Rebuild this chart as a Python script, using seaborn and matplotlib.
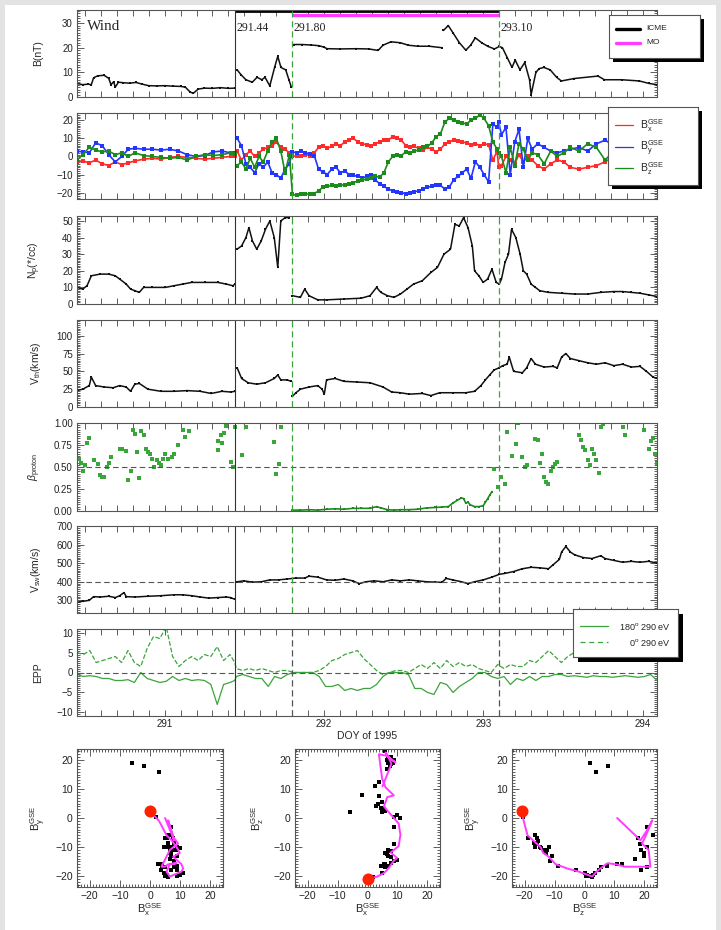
import numpy as np
import pandas as pd
import matplotlib
matplotlib.use('Agg')
import matplotlib.pyplot as plt
from matplotlib.patches import Rectangle
from matplotlib.ticker import MultipleLocator, FormatStrFormatter
import seaborn as sns

sns.set_style('ticks')
plt.rcParams['font.family'] = ['Liberation Sans', 'DejaVu Sans']
plt.rcParams['mathtext.fontset'] = 'custom'
plt.rcParams['mathtext.rm'] = 'Liberation Sans'
plt.rcParams['mathtext.it'] = 'Liberation Sans:italic'
plt.rcParams['mathtext.bf'] = 'Liberation Sans:bold'

# ---------------- data ----------------
ICME_START, MO_START, MO_END = 291.44, 291.80, 293.10
DOY_RANGE = (290.45, 294.09)

# |B|
b_doy = [290.450, 290.486, 290.520, 290.540, 290.554, 290.580, 290.620, 290.649, 290.663, 290.680,
         290.690, 290.710, 290.740, 290.780, 290.820, 290.860, 290.900, 290.950, 291.000, 291.050,
         291.100, 291.130, 291.160, 291.180, 291.210, 291.250, 291.300, 291.350, 291.400, 291.440,
         291.455, 291.480, 291.510, 291.550, 291.580, 291.610, 291.630, 291.660, 291.690, 291.710,
         291.730, 291.760, 291.780, 291.795,
         291.810, 291.860, 291.920, 291.970, 292.000, 292.020, 292.100, 292.200, 292.280, 292.340,
         292.370, 292.420, 292.480, 292.530, 292.590, 292.660, 292.740,
         292.750, 292.780, 292.810, 292.850, 292.890, 292.920, 292.950, 292.990, 293.030, 293.070, 293.100,
         293.120, 293.150, 293.180, 293.200, 293.230, 293.260, 293.290, 293.300, 293.330, 293.350,
         293.380, 293.420, 293.460, 293.490, 293.570, 293.720, 293.760, 293.870, 293.980, 294.040, 294.090]
b_mag = [5.5, 5.0, 5.2, 5.0, 7.8, 8.6, 8.8, 7.6, 5.0, 6.2,
         4.0, 6.0, 5.8, 5.6, 5.9, 5.2, 4.6, 4.5, 4.6, 4.4,
         4.3, 4.0, 2.0, 1.5, 3.2, 3.6, 3.5, 3.8, 3.5, 3.6,
         11, 9, 7, 6, 8, 7, 8, 4.5, 12, 16.5,
         12, 11, 7, 4,
         21.3, 21.3, 21.1, 20.8, 20.2, 19.6, 19.5, 19.6, 19.5, 18.9,
         21.0, 22.4, 22.0, 21.0, 20.6, 20.6, 20.0,
         27.0, 29.0, 26.0, 22.0, 19.0, 21.0, 24.0, 22.0, 20.5, 19.5, 20.5,
         20, 16, 12, 15, 11, 14, 7, 1, 10, 11.5,
         12, 11, 8, 6.5, 7.5, 8.5, 7, 7, 6.5, 5.5, 5]

# B components (GSE)
bgse_doy = [290.450, 290.486, 290.527, 290.567, 290.608, 290.649, 290.690, 290.731, 290.772, 290.813,
            290.868, 290.923, 290.977, 291.032, 291.087, 291.141, 291.196, 291.251, 291.305, 291.360,
            291.414, 291.442,
            291.455, 291.482, 291.510, 291.537, 291.565, 291.592, 291.619, 291.647, 291.674, 291.701,
            291.729, 291.756, 291.783,
            291.802, 291.830, 291.857, 291.884, 291.912, 291.939, 291.966, 291.993, 292.021, 292.048,
            292.076, 292.103, 292.130, 292.158, 292.185, 292.212, 292.240, 292.267, 292.294, 292.321,
            292.349, 292.376, 292.404, 292.431, 292.458, 292.485, 292.513, 292.540, 292.567, 292.594,
            292.622, 292.649, 292.677, 292.704, 292.731, 292.759, 292.786, 292.813, 292.841, 292.868,
            292.895, 292.923, 292.950, 292.978, 293.005, 293.033, 293.060, 293.087, 293.096,
            293.114, 293.142, 293.169, 293.197, 293.224, 293.251, 293.279, 293.306, 293.341, 293.382,
            293.423, 293.464, 293.505, 293.546, 293.600, 293.655, 293.710, 293.764, 293.819, 293.874,
            293.929, 293.983, 294.038, 294.092]
bx_gse = [-3, -2.5, -3.5, -2, -4, -5, -3, -4.5, -3.5, -2.5, -1.5, -1, -1.5, -0.5, 0, -0.5, -1, -1.5, -1, -0.5, 0, 0.5,
          3, -2, 1, 3, 0, 2, 4, 5, 6, 8, 5, 4, 2,
          0, 0.5, 0, 1, 0.5, 2, 5, 6, 4.5, 5.5, 7, 6, 8, 9, 10, 8, 7, 6.5, 6, 7,
          8, 9, 9, 11, 10, 9, 6, 5, 5.5, 4.5, 3.5, 5, 4, 2.5, 4, 7, 8, 9, 8.5, 8,
          7.5, 6.5, 7, 6, 7, 6.5, -2, 3, -6,
          -5, 0, -2, -4, 1, -3, 0, -2, -5, -7, -4, -2, -3, -6, -7, -6, -5, -3, 0, -2, -1, 0, -3, -4]
by_gse = [3, 2.5, 2, 7.5, 6, 1, -3, 0, 4, 4.5, 4, 4, 3.5, 4, 3, 1, 0, 0.5, 2.5, 3, 2, 2,
          10, 6, -4, -6, -9, -4, -6, -3, -9, -10, -12, -7, -4,
          2.5, 2, 3, 2, 1.5, 0.5, -7, -8.5, -10, -7, -6, -9, -8, -10, -10.5, -11, -12, -11, -10, -13,
          -15, -16.5, -18, -19, -19.5, -20, -20.5, -20, -19.5, -19, -18, -17, -16.5, -16, -16, -18, -17, -13, -11, -9,
          -7, -12, -3, -6, -10, -14, 18, 16, 19,
          12, 16, -10, 8, 15, -6, 10, 4, 7, 5, 3, 2, 3, 4, 5, 3, 7, 9, 6, 3, 4, 6, 5, 4]
bz_gse = [-2, 1, 5, 3.5, 2.5, 3, 1, 2, 0, 2, 0.5, 0, -0.5, -1, -0.5, -2, 0, 1, 0.5, 1, 2, 1.5,
          -5, -3, -7, -1, -6, 0, -3, 3, 8, 10, 3, -9, 1,
          -21, -21.5, -21, -21, -20.5, -20.5, -19, -17, -16.5, -16, -16.5, -16, -15.5, -15, -14.5, -13.5, -13, -12.5, -12, -11,
          -11.5, -9, -3, 0, 1, 0.5, 2.5, 2, 3, 3.5, 5, 5.5, 7.5, 11, 12.5, 19, 21, 20, 19, 18.5,
          18, 20, 21, 23, 21, 17, 8, 4, 2,
          0, -9, 5, -5, 7, 4, -2, 2, 1, -4, 3, 0, 2, 5, 3, 7, 5, -2, 3, 2, 0, 3, 2, 0]

# hourly averages inside the magnetic obstacle (magenta hodogram path)
hour_bx = [0.0, 3.0, 5.5, 7.0, 8.8, 9.9, 7.7, 10.4, 11.0, 10.4, 6.6, 5.5, 6.6, 8.8, 6.0, 4.9, 3.8, 6.6, 9.3, 7.7, 6.0, 7.0, 8.0, 5.0]
hour_by = [2.4, -1.0, -6.0, -7.5, -10.0, -12.0, -13.4, -15.9, -17.4, -18.5, -20.2, -18.5, -15.9, -15.6, -16.0, -16.8, -16.8, -11.0, -8.8, -6.5, -0.8, -4.2, -7.7, 0.0]
hour_bz = [-21.0, -20.3, -19.0, -17.4, -14.7, -13.8, -11.9, -9.7, -5.8, -1.9, 2.6, 4.0, 7.2, 7.8, 10.6, 13.5, 22.0, 21.4, 19.2, 20.3, 22.6, 20.9, 18.7, 10.9]

# proton density
np_doy = [290.450, 290.486, 290.513, 290.540, 290.595, 290.649, 290.690, 290.718, 290.759, 290.786,
          290.813, 290.841, 290.868, 290.923, 291.005, 291.059, 291.114, 291.169, 291.251, 291.333,
          291.387, 291.428, 291.442,
          291.455, 291.483, 291.510, 291.529, 291.551, 291.578, 291.606, 291.633, 291.660, 291.688,
          291.710, 291.729, 291.756, 291.783,
          291.802, 291.852, 291.879, 291.906, 291.961, 292.016, 292.125, 292.234, 292.289, 292.330,
          292.357, 292.398, 292.439, 292.480, 292.521, 292.562, 292.617, 292.671, 292.712, 292.753,
          292.794, 292.822, 292.849, 292.876, 292.904, 292.931, 292.945, 292.972, 292.999, 293.027,
          293.054, 293.081, 293.100,
          293.114, 293.136, 293.158, 293.177, 293.204, 293.231, 293.251, 293.272, 293.300, 293.327,
          293.354, 293.409, 293.491, 293.573, 293.655, 293.737, 293.819, 293.874, 293.928, 293.983,
          294.037, 294.092]
np_vals = [10, 9, 11, 17, 18, 18, 17, 15, 12, 9, 8, 7, 10, 10, 10, 11, 12, 13, 13, 13, 12, 11, 12,
           33, 35, 40, 46, 38, 33, 38, 45, 50, 40, 22, 50, 52, 52,
           5, 4, 9, 5, 2.5, 2.5, 3, 3.5, 5, 10, 7, 5, 4, 6, 9, 12, 14, 19, 22, 30, 33, 48, 47, 52,
           46, 35, 20, 17, 13, 15, 21, 13, 12,
           15, 25, 30, 45, 40, 30, 20, 18, 12, 10, 8, 7, 6.5, 6, 6, 7, 7.5, 7.5, 7, 6.5, 5.5, 4.5]

# proton thermal speed
vth_doy = [290.450, 290.486, 290.527, 290.540, 290.567, 290.622, 290.677, 290.718, 290.759, 290.786,
           290.813, 290.841, 290.895, 290.977, 291.059, 291.141, 291.223, 291.292, 291.360, 291.414, 291.442,
           291.455, 291.483, 291.524, 291.578, 291.633, 291.688, 291.710, 291.729, 291.770, 291.792,
           291.802, 291.824, 291.852, 291.906, 291.961, 291.988, 292.002, 292.016, 292.070, 292.125,
           292.207, 292.289, 292.371, 292.425, 292.480, 292.535, 292.617, 292.671, 292.726, 292.808,
           292.890, 292.945, 292.985, 293.013, 293.040, 293.068, 293.100,
           293.122, 293.149, 293.163, 293.190, 293.245, 293.272, 293.300, 293.327, 293.382, 293.436,
           293.464, 293.491, 293.518, 293.546, 293.600, 293.655, 293.710, 293.764, 293.819, 293.874,
           293.929, 293.983, 294.024, 294.065, 294.092]
vth_vals = [23, 25, 30, 42, 30, 28, 27, 30, 28, 22, 32, 33, 25, 22, 22, 23, 22, 19, 22, 21, 22,
            55, 40, 34, 32, 34, 40, 45, 38, 38, 36,
            15, 20, 25, 28, 30, 25, 18, 38, 40, 36, 35, 34, 28, 21, 20, 18, 19, 16, 20, 20,
            20, 22, 30, 38, 45, 52, 55,
            58, 60, 70, 50, 48, 55, 68, 60, 56, 57, 55, 70, 75, 68, 65, 62, 60, 62, 58, 60,
            56, 57, 50, 42, 40]

# proton beta: scattered points outside the MO, and the low-beta trace inside it
beta_doy = [290.464, 290.472, 290.486, 290.499, 290.513, 290.527, 290.554, 290.581, 290.595, 290.608,
            290.622, 290.636, 290.649, 290.663, 290.718, 290.731, 290.759, 290.772, 290.786, 290.800,
            290.813, 290.827, 290.841, 290.854, 290.868, 290.882, 290.895, 290.909, 290.923, 290.936,
            290.950, 290.964, 290.977, 290.991, 291.005, 291.018, 291.046, 291.059, 291.087, 291.114,
            291.128, 291.155, 291.333, 291.338, 291.354, 291.360, 291.374, 291.387, 291.414, 291.428,
            291.442,
            291.483, 291.510, 291.688, 291.701, 291.715, 291.729,
            293.068, 293.095, 293.109, 293.136, 293.149, 293.177, 293.204, 293.218, 293.245, 293.259,
            293.272, 293.327, 293.341, 293.354, 293.368, 293.382, 293.395, 293.409, 293.423, 293.436,
            293.450, 293.464, 293.600, 293.614, 293.628, 293.641, 293.655, 293.669, 293.682, 293.696,
            293.710, 293.723, 293.737, 293.751, 293.874, 293.887, 294.010, 294.037, 294.051, 294.065,
            294.078, 294.092]
beta_vals = [.59, .54, .45, .52, .77, .83, .58, .53, .41, .39, .39, .50, .54, .61, .70, .70, .68, .35, .46, .92,
             .88, .67, .38, .91, .86, .71, .67, .65, .59, .50, .58, .54, .52, .59, .65, .59, .61, .65, .75, .92,
             .84, .91, .69, .80, .86, .77, .89, .97, .56, .50, .95,
             .64, .95, .78, .42, .53, .95,
             .48, .27, .39, .31, .90, .63, .76, 1.0, .61, .50, .52, .82, .81, .54, .65, .39, .33, .31, .45, .50,
             .53, .56, .86, .81, .73, .69, .58, .52, .71, .65, .58, .43, .95, .99, .95, .86, .92, .71, .80, .83,
             .65, .54]
lowbeta_doy = [291.802, 291.852, 291.906, 291.961, 292.016, 292.070, 292.125, 292.180, 292.234, 292.289,
               292.330, 292.357, 292.398, 292.439, 292.480, 292.535, 292.589, 292.644, 292.699, 292.740,
               292.781, 292.808, 292.835, 292.863, 292.876, 292.890, 292.904, 292.918, 292.945, 292.972,
               292.999, 293.013, 293.027, 293.040, 293.054]
lowbeta_vals = [.01, .01, .015, .01, .02, .025, .02, .03, .03, .03, .05, .035, .015, .01, .015, .015, .02, .035, .04, .045,
                .05, .09, .12, .15, .14, .09, .10, .07, .05, .05, .06, .10, .14, .18, .22]

# solar wind speed
vsw_doy = [290.450, 290.486, 290.527, 290.554, 290.595, 290.649, 290.690, 290.718, 290.745, 290.759,
           290.813, 290.895, 290.977, 291.059, 291.114, 291.169, 291.223, 291.278, 291.333, 291.387,
           291.414, 291.442,
           291.455, 291.496, 291.551, 291.606, 291.660, 291.715, 291.770, 291.824, 291.879, 291.906,
           291.961, 292.016, 292.070, 292.125, 292.180, 292.221, 292.262, 292.316, 292.371, 292.425,
           292.480, 292.535, 292.589, 292.644, 292.699, 292.740, 292.767, 292.808, 292.863, 292.904,
           292.945, 292.999, 293.054, 293.100,
           293.136, 293.190, 293.245, 293.300, 293.354, 293.409, 293.436, 293.477, 293.491, 293.518,
           293.546, 293.573, 293.628, 293.682, 293.737, 293.764, 293.819, 293.874, 293.929, 293.983,
           294.037, 294.092]
vsw_vals = [290, 295, 300, 320, 318, 322, 315, 325, 342, 320, 318, 322, 325, 330, 330, 325, 318, 312, 315, 318, 315, 305,
            400, 405, 398, 400, 410, 410, 415, 420, 420, 430, 425, 410, 408, 415, 405, 390, 400, 405, 400, 410,
            405, 410, 405, 400, 398, 397, 418, 410, 400, 390, 400, 410, 425, 440,
            445, 455, 470, 478, 475, 470, 490, 520, 560, 590, 560, 545, 530, 525, 540, 525, 515, 505, 510, 505,
            510, 500]

# electron pitch angle proxy (EPP)
epp_doy = [290.45, 290.49, 290.53, 290.57, 290.61, 290.65, 290.69, 290.73, 290.77, 290.81,
           290.85, 290.89, 290.93, 290.97, 291.01, 291.05, 291.09, 291.13, 291.17, 291.21,
           291.25, 291.29, 291.33, 291.37, 291.41, 291.44,
           291.45, 291.49, 291.53, 291.57, 291.61, 291.65, 291.69, 291.73, 291.77, 291.81,
           291.85, 291.89, 291.93, 291.97, 292.01, 292.05, 292.09, 292.13, 292.17, 292.21,
           292.25, 292.29, 292.33, 292.37, 292.41, 292.45, 292.49, 292.53, 292.57, 292.61,
           292.65, 292.69, 292.73, 292.77, 292.81, 292.85, 292.89, 292.93, 292.97, 293.01,
           293.05, 293.09, 293.13, 293.17, 293.21, 293.25, 293.29, 293.33, 293.37, 293.41,
           293.45, 293.49, 293.53, 293.57, 293.61, 293.65, 293.69, 293.73, 293.77, 293.81,
           293.85, 293.89, 293.93, 293.97, 294.01, 294.05, 294.09]
epp_180 = [-0.5, -1, -0.8, -1, -1.5, -1.5, -2, -2, -1.8, -2.5,
           0, -1.5, -2, -2.5, -2.2, -1, -2, -1.5, -2, -1.8,
           -2, -3, -8, -3, -2.5, -2,
           -1, -0.5, -1, -1.5, -1.5, -3.5, -1, -1.5, -0.5, 0,
           0, 0, 0, -1, -3.5, -3.5, -3, -4.5, -4, -4.5,
           -4, -4, -3, -1, 0, 0, 0, -0.5, -4, -4,
           -5, -5.5, -2.5, -3, -5, -3.5, -2.5, -1.5, 0, 0,
           -1, -1.5, -1, -3, -1.5, -2, -1, -2, -1, -1,
           -0.5, -0.5, -1, -0.8, -1, -1.2, -0.8, -1, -1, -1.2,
           -1, -0.8, -1, -1.2, -1, -0.5, -2]
epp_0 = [5, 4.5, 5.5, 2.5, 3, 3.5, 4, 2.5, 5.5, 2.5,
         1.5, 6, 9, 8.5, 11.5, 4, 1.5, 3, 4, 3,
         4.5, 4, 6.5, 3, 4.5, 2.5,
         1, 0.5, 1, 0.5, 1, 0.5, 0, 0.5, 0.5, 0,
         0, 0, 0, 0.5, 1.5, 3, 3.5, 4.5, 5, 5.5,
         3.5, 2, 0.5, -0.5, 0, 0.5, 0.5, 0, 1, 2,
         1, 2.5, 1, 3, 1.5, 2.5, 1.5, 2, 1, 0.5,
         0, 2, 1, 2, 1.5, 1.5, 3, 2.5, 4, 5.5,
         4, 2.5, 4, 5, 4.5, 5, 4, 4.5, 4, 3.5,
         4, 4.5, 4, 3.5, 3.5, 3, 3]

# ---------------- colours ----------------
RED, BLUE, GREEN = '#ff2a2a', '#2236ff', '#1b8c1b'
LGREEN = '#3aa53a'
MAGENTA = '#ff3cff'
GREYLINE = '#555555'

# ---------------- figure ----------------
W, H = 721, 930
fig = plt.figure(figsize=(W / 100, H / 100), dpi=100, facecolor='#e3e3e3')
fig.add_artist(Rectangle((5 / W, 0), (716 - 5) / W, (H - 5) / H, transform=fig.transFigure,
                         facecolor='white', edgecolor='none', zorder=-10))


def px_axes(left, top, right, bottom):
    return fig.add_axes([left / W, 1 - bottom / H, (right - left) / W, (bottom - top) / H])


def style_axis(ax, ymajor, yminor, labelsize=7):
    ax.tick_params(which='both', direction='in', top=True, right=True, color='#444',
                   labelcolor='#222', labelsize=labelsize, width=0.6, pad=3)
    ax.tick_params(axis='y', which='major', length=5)
    ax.tick_params(axis='y', which='minor', length=2.5)
    ax.yaxis.set_major_locator(MultipleLocator(ymajor))
    ax.yaxis.set_minor_locator(MultipleLocator(yminor))
    for s in ax.spines.values():
        s.set_visible(True)
        s.set_linewidth(0.8)
        s.set_color('#555555')


def draw_series(ax, doy, vals, color, breaks=(), lw=1.1, ls='-', ms=2.0):
    seg = np.searchsorted(np.asarray(breaks, dtype=float), np.asarray(doy, dtype=float))
    frame = pd.DataFrame({'doy': doy, 'val': vals, 'seg': seg})
    kws = dict(marker='s', ms=ms, mew=0) if ms else {}
    sns.lineplot(data=frame, x='doy', y='val', units='seg', estimator=None, sort=False, ax=ax,
                 color=color, lw=lw, ls=ls, legend=False, **kws)


panel_px = [(10, 97), (113, 199), (216, 304), (320, 407), (423, 511), (526, 613), (629, 716)]
axes = [px_axes(77, t, 657, b) for t, b in panel_px]

# 1: |B|
ax = axes[0]
draw_series(ax, b_doy, b_mag, '#111111', breaks=[291.447, 291.801, 292.745])
ax.set_ylim(0, 35.3)
style_axis(ax, 10, 1)
ax.set_ylabel('B(nT)')
ax.plot([ICME_START, MO_END], [34.7, 34.7], color='black', lw=2.0, solid_capstyle='butt', clip_on=False)
ax.plot([MO_START, MO_END], [33.2, 33.2], color=MAGENTA, lw=2.4, solid_capstyle='butt', clip_on=False)
ax.text(0.018, 0.88, 'Wind', transform=ax.transAxes, va='top', ha='left', fontsize=11,
        family=['Liberation Serif', 'DejaVu Serif'])
for x0 in (ICME_START, MO_START, MO_END):
    ax.text(x0 + 0.008, 28, f'{x0:.2f}', va='center', ha='left', fontsize=8.5,
            family=['Liberation Serif', 'DejaVu Serif'], color='#222')

# 2: B components
ax = axes[1]
for comp, col in ((bx_gse, RED), (by_gse, BLUE), (bz_gse, GREEN)):
    draw_series(ax, bgse_doy, comp, col, breaks=[291.447], lw=1.2, ms=2.2)
ax.set_ylim(-23.5, 24)
style_axis(ax, 10, 1)
ax.set_ylabel('')

# 3: Np
ax = axes[2]
draw_series(ax, np_doy, np_vals, '#111111', breaks=[291.447, 291.795])
ax.set_ylim(0, 53)
style_axis(ax, 10, 1)
ax.set_ylabel(r'N$_\mathrm{p}$(*/cc)')

# 4: Vth
ax = axes[3]
draw_series(ax, vth_doy, vth_vals, '#111111', breaks=[291.447, 291.797])
ax.set_ylim(0, 122)
style_axis(ax, 25, 2.5)
ax.set_ylabel(r'V$_\mathrm{th}$(km/s)')

# 5: beta
ax = axes[4]
sns.scatterplot(x=beta_doy, y=beta_vals, ax=ax, color=LGREEN, s=5, linewidth=0, marker='s')
draw_series(ax, lowbeta_doy, lowbeta_vals, GREEN, lw=1.2, ms=2.0)
ax.axhline(0.5, color=GREYLINE, lw=0.8, dashes=(5, 3))
ax.set_ylim(0, 1.0)
style_axis(ax, 0.25, 0.025)
ax.yaxis.set_major_formatter(FormatStrFormatter('%.2f'))
ax.set_ylabel(r'$\beta_{\mathrm{proton}}$')

# 6: Vsw
ax = axes[5]
draw_series(ax, vsw_doy, vsw_vals, '#111111', breaks=[291.447])
ax.axhline(400, color=GREYLINE, lw=0.8, dashes=(5, 3))
ax.set_ylim(232, 700)
style_axis(ax, 100, 10)
ax.set_ylabel(r'V$_\mathrm{sw}$(km/s)')

# 7: EPP
ax = axes[6]
draw_series(ax, epp_doy, epp_180, LGREEN, lw=0.9, ms=0)
draw_series(ax, epp_doy, epp_0, LGREEN, lw=0.9, ls='--', ms=0)
ax.axhline(0, color=GREYLINE, lw=0.8, dashes=(5, 3))
ax.set_ylim(-10.9, 10.9)
style_axis(ax, 5, 0.5)
ax.set_ylabel('EPP')

# shared x axis, boundary lines
for i, ax in enumerate(axes):
    ax.set_xlim(*DOY_RANGE)
    ax.xaxis.set_major_locator(MultipleLocator(1))
    ax.xaxis.set_minor_locator(MultipleLocator(0.1))
    ax.tick_params(axis='x', which='both', length=4)
    ax.yaxis.label.set_fontsize(7.5)
    ax.yaxis.set_label_coords(-0.058, 0.5)
    ax.axvline(ICME_START, color='#333333', lw=0.8)
    if i < 5:
        ax.axvline(MO_START, color=LGREEN, lw=0.9, dashes=(5, 3))
        ax.axvline(MO_END, color=LGREEN, lw=0.9, dashes=(5, 3))
    elif i == 5:
        ax.axvline(MO_START, color=LGREEN, lw=0.9, dashes=(5, 3))
        ax.axvline(MO_END, color=GREYLINE, lw=0.9, dashes=(5, 3))
    else:
        ax.axvline(MO_START, color=GREYLINE, lw=0.9, dashes=(5, 3))
        ax.axvline(MO_END, color=GREYLINE, lw=0.9, dashes=(5, 3))
    if i < 6:
        ax.tick_params(axis='x', labelbottom=False)
        ax.set_xlabel('')
    else:
        ax.tick_params(axis='x', pad=2)
        ax.set_xlabel('DOY of 1995', fontsize=7.5)
        ax.xaxis.set_label_coords(0.5, -0.17)

# ---------------- hodograms ----------------
mo_mask = [(MO_START <= t <= MO_END) for t in bgse_doy]
mo = pd.DataFrame({'bx': bx_gse, 'by': by_gse, 'bz': bz_gse})[mo_mask]
hours = pd.DataFrame({'bx': hour_bx, 'by': hour_by, 'bz': hour_bz})
hodo_specs = [((77, 749, 223, 887), 'bx', 'by', r'B$_\mathrm{x}^\mathrm{GSE}$', r'B$_\mathrm{y}^\mathrm{GSE}$'),
              ((295, 749, 440, 887), 'bx', 'bz', r'B$_\mathrm{x}^\mathrm{GSE}$', r'B$_\mathrm{z}^\mathrm{GSE}$'),
              ((512, 749, 657, 887), 'bz', 'by', r'B$_\mathrm{z}^\mathrm{GSE}$', r'B$_\mathrm{y}^\mathrm{GSE}$')]
for box, xc, yc, xl, yl in hodo_specs:
    hx = px_axes(*box)
    sns.scatterplot(data=mo, x=xc, y=yc, ax=hx, color='black', s=8, marker='s', linewidth=0)
    sns.lineplot(data=hours, x=xc, y=yc, ax=hx, sort=False, estimator=None, color=MAGENTA, lw=1.4)
    sns.scatterplot(x=[hours[xc].iloc[0]], y=[hours[yc].iloc[0]], ax=hx, color='#ff2200', s=75,
                    linewidth=0, zorder=5)
    hx.set_xlim(-24.2, 24.2)
    hx.set_ylim(-23.8, 23.8)
    style_axis(hx, 10, 1, labelsize=7.5)
    hx.xaxis.set_major_locator(MultipleLocator(10))
    hx.xaxis.set_minor_locator(MultipleLocator(1))
    hx.tick_params(axis='x', which='major', length=5)
    hx.tick_params(axis='x', which='minor', length=2.5)
    hx.set_xlabel(xl, fontsize=8)
    hx.set_ylabel(yl, fontsize=8)
    hx.xaxis.set_label_coords(0.5, -0.1)
    hx.yaxis.set_label_coords(-0.2, 0.5)


# ---------------- legends (boxes with drop shadow) ----------------
def legend_box(left, top, right, bottom, shadow=4):
    sh = px_axes(left + shadow, top + shadow, right + shadow, bottom + shadow)
    sh.set_facecolor('black')
    sh.set_xticks([])
    sh.set_yticks([])
    for s in sh.spines.values():
        s.set_visible(False)
    lg = px_axes(left, top, right, bottom)
    lg.set_facecolor('white')
    lg.set_xlim(left, right)
    lg.set_ylim(bottom, top)
    lg.set_xticks([])
    lg.set_yticks([])
    for s in lg.spines.values():
        s.set_visible(True)
        s.set_linewidth(0.8)
        s.set_color('#555555')
    return lg


lg = legend_box(609, 15, 700, 58)
lg.plot([616, 640], [29, 29], color='black', lw=2.4)
lg.plot([616, 640], [43, 43], color=MAGENTA, lw=2.4)
lg.text(646, 29, 'ICME', va='center', fontsize=6)
lg.text(646, 43, 'MO', va='center', fontsize=6)

lg = legend_box(608, 107, 698, 185)
for yy, col, lab in ((125, RED, 'x'), (147, BLUE, 'y'), (168, GREEN, 'z')):
    lg.plot([615, 633], [yy, yy], color=col, lw=0.9)
    lg.text(640, yy + 1, r'B$_\mathrm{%s}^\mathrm{GSE}$' % lab, va='center', fontsize=7.5)

lg = legend_box(573, 609, 678, 657, shadow=5)
lg.plot([580, 608], [626, 626], color=LGREEN, lw=0.9)
lg.plot([580, 608], [642, 642], color=LGREEN, lw=0.9, dashes=(4, 3))
lg.text(671, 626, r'180$^\mathrm{o}$ 290 eV', va='center', ha='right', fontsize=6.5)
lg.text(671, 642, r'0$^\mathrm{o}$ 290 eV', va='center', ha='right', fontsize=6.5)

fig.savefig('out.png', dpi=100, facecolor=fig.get_facecolor())
